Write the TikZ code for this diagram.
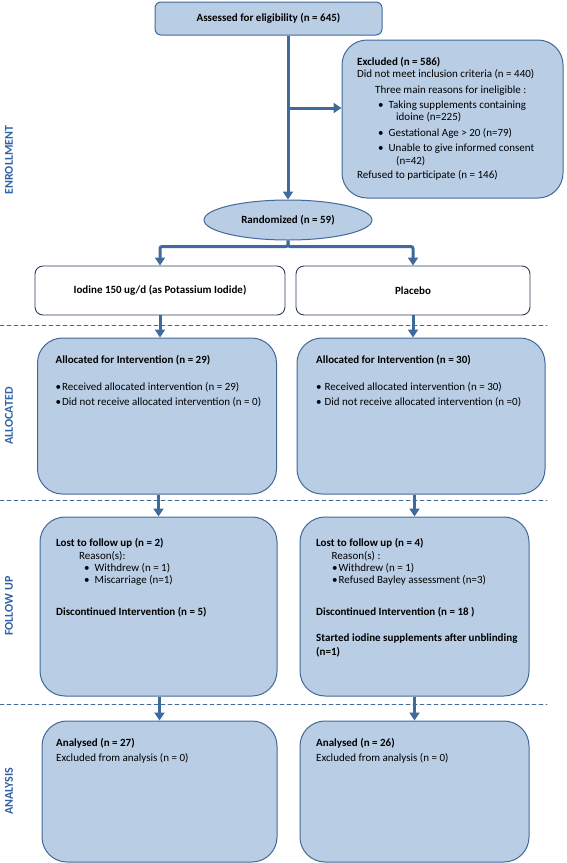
\documentclass[tikz,border=0pt]{standalone}
\usepackage{fontspec}
\setmainfont{Carlito}
\usepackage{tikz}
\usetikzlibrary{positioning}
\usetikzlibrary{shapes.geometric}
\usetikzlibrary{arrows.meta}
\definecolor{boxfill}{HTML}{B9CDE5}
\definecolor{boxline}{HTML}{41699A}
\definecolor{arrowblue}{HTML}{3E6A9E}
\definecolor{stageblue}{HTML}{2F62A6}
\definecolor{darkline}{HTML}{2C3E57}

\begin{document}
\begin{tikzpicture}[x=1pt, y=-1pt, line cap=round, line join=round,
    every node/.style={font=\fontsize{11}{12}\selectfont},
    bluebox/.style={draw=boxline, line width=1pt, fill=boxfill, rounded corners=25pt, inner sep=0pt},
    armbox/.style={draw=darkline, line width=0.9pt, fill=white, rounded corners=8pt, inner sep=0pt},
    flow/.style={-{Triangle[width=10pt,length=8pt]}, draw=arrowblue, line width=3pt, line cap=butt},
    stage/.style={rotate=90, font=\fontsize{12}{12}\selectfont\bfseries, text=stageblue},
    divider/.style={draw=boxline, line width=0.7pt, dash pattern=on 4pt off 3pt},
    textblock/.style={anchor=base west, align=left, inner sep=0pt}]
            \useasboundingbox (0,0) rectangle (567,863);

            % enrollment (text blocks sit on the baseline of their last line)
            \node[bluebox, rounded corners=6pt, minimum width=227pt, minimum height=33pt] (assess) at (268.5,18.5) {\textbf{Assessed for eligibility (n = 645)}};
            \node[bluebox, minimum width=221pt, minimum height=158pt] (excl) at (452.5,119) {};
            \node[textblock] (excltxt) at (357,178.5) {\textbf{Excluded (n = 586)}\\
                Did not meet inclusion criteria (n = 440)\\[4.7pt]
                \hspace*{18pt}Three main reasons for ineligible :\\[3pt]
                \hspace*{21pt}\textbullet\hspace{5pt}Taking supplements containing\\
                \hspace*{39pt}idoine (n=225)\\[4pt]
                \hspace*{21pt}\textbullet\hspace{5pt}Gestational Age > 20 (n=79)\\[3pt]
                \hspace*{21pt}\textbullet\hspace{5pt}Unable to give informed consent\\[0.7pt]
                \hspace*{39pt}(n=42)\\[2pt]
                Refused to participate (n = 146)};
            \node[ellipse, draw=boxline, line width=1pt, fill=boxfill, minimum width=168pt, minimum height=40pt, inner sep=0pt] (rand) at (288,220) {\textbf{Randomized (n = 59)}};

            % the two arms
            \node[armbox, minimum width=250pt, minimum height=49pt] (iod) at (160,290.5) {\textbf{Iodine 150 ug/d (as Potassium Iodide)}};
            \node[armbox, minimum width=234pt, minimum height=49pt] (plac) at (413,290.5) {\textbf{Placebo}};

            % stage dividers
            \draw[divider] (0,325) -- (547,325);
            \draw[divider] (0,500) -- (547,500);
            \draw[divider] (0,704) -- (547,704);

            % allocation
            \node[bluebox, minimum width=239pt, minimum height=156pt] (alloc1) at (157,416) {};
            \node[textblock] (alloc1txt) at (55.5,405.5) {\textbf{Allocated for Intervention (n = 29)}\\[15pt]
                \textbullet\hspace{1pt}Received allocated intervention (n = 29)\\[3pt]
                \textbullet\hspace{1pt}Did not receive allocated intervention (n = 0)};
            \node[bluebox, minimum width=248pt, minimum height=156pt] (alloc2) at (421,416) {};
            \node[textblock] (alloc2txt) at (316,405.5) {\textbf{Allocated for Intervention (n = 30)}\\[15pt]
                \textbullet\hspace{3pt}Received allocated intervention (n = 30)\\[3pt]
                \textbullet\hspace{3pt}Did not receive allocated intervention (n =0)};

            % follow up
            \node[bluebox, minimum width=237pt, minimum height=179pt] (fol1) at (158.5,606.5) {};
            \node[textblock] (fol1txt) at (56,615.5) {\textbf{Lost to follow up (n = 2)}\\[1pt]
                \hspace*{23pt}Reason(s):\\
                \hspace*{28pt}\textbullet\hspace{5pt}Withdrew (n = 1)\\
                \hspace*{28pt}\textbullet\hspace{5pt}Miscarriage (n=1)\\[20pt]
                \textbf{Discontinued Intervention (n = 5)}};
            \node[bluebox, minimum width=229pt, minimum height=179pt] (fol2) at (414.5,606.5) {};
            \node[textblock] (fol2txt) at (316,655.5) {\textbf{Lost to follow up (n = 4)}\\[1pt]
                \hspace*{15.5pt}Reason(s) :\\
                \hspace*{16pt}\textbullet\hspace{1pt}Withdrew (n = 1)\\
                \hspace*{16pt}\textbullet\hspace{1pt}Refused Bayley assessment (n=3)\\[20pt]
                \textbf{Discontinued Intervention (n = 18 )}\\[14pt]
                \textbf{Started iodine supplements after unblinding}\\[2pt]
                \textbf{(n=1)}};

            % analysis
            \node[bluebox, minimum width=235pt, minimum height=141pt] (ana1) at (159.5,791.5) {};
            \node[textblock] (ana1txt) at (56,761.5) {\textbf{Analysed (n = 27)}\\[3pt]
                Excluded from analysis (n = 0)};
            \node[bluebox, minimum width=229pt, minimum height=141pt] (ana2) at (414.5,791.5) {};
            \node[textblock] (ana2txt) at (316,761.5) {\textbf{Analysed (n = 26)}\\[3pt]
                Excluded from analysis (n = 0)};

            % stage labels
            \node[stage] (enrol) at (9,160) {ENROLLMENT};
            \node[stage] (allocl) at (9,416) {ALLOCATED};
            \node[stage] (follow) at (9,606) {FOLLOW UP};
            \node[stage] (analys) at (9,791) {ANALYSIS};

            % arrows
            \coordinate (split) at (288,108);
            \draw[flow] (assess.south -| rand.north) -- (rand.north);
            \draw[flow] (split) -- (split -| excl.west);
            \draw[flow, rounded corners=2pt] (rand.south) -- ++(0,6) -| (iod.north);
            \draw[flow, rounded corners=2pt] (rand.south) -- ++(0,6) -| (plac.north);
            \draw[flow] (iod.south) -- (iod.south |- alloc1.north);
            \draw[flow] (plac.south) -- (plac.south |- alloc2.north);
            \draw[flow] (fol1.north |- alloc1.south) -- (fol1.north);
            \draw[flow] (fol2.north |- alloc2.south) -- (fol2.north);
            \draw[flow] (ana1.north |- fol1.south) -- (ana1.north);
            \draw[flow] (ana2.north |- fol2.south) -- (ana2.north);
\end{tikzpicture}
\end{document}
